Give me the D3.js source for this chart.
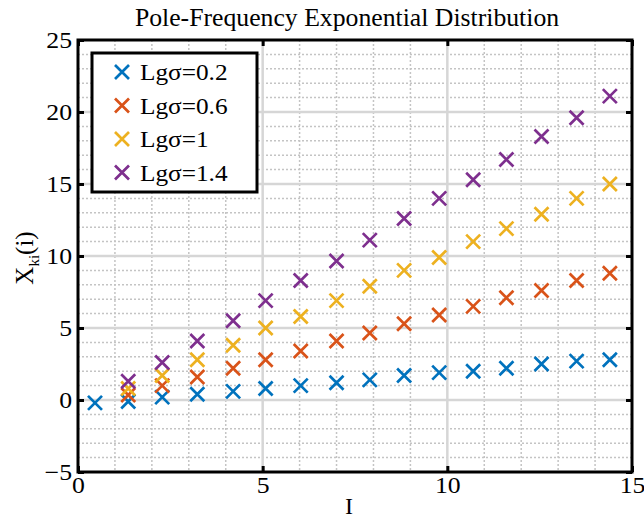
<!DOCTYPE html>
<html>
<head>
<meta charset="utf-8">
<script src="https://cdn.jsdelivr.net/npm/d3@7"></script>
<style>
  body { margin: 0; background: #fff; }
  text { font-family: "Liberation Serif", "Times New Roman", serif; fill: #000; }
</style>
</head>
<body>
<div id="chart"></div>
<script>
// data
const xPos = [0.46, 1.36, 2.28, 3.23, 4.2, 5.08, 6.03, 7.0, 7.9, 8.83, 9.78, 10.7, 11.6, 12.55, 13.5, 14.4];
const seriesNames = ["Lg\u03c3=0.2", "Lg\u03c3=0.6", "Lg\u03c3=1", "Lg\u03c3=1.4"];
const seriesColors = ["#0072BD", "#D95319", "#EDB120", "#7E2F8E"];
const blueVals   = [-0.2, -0.1, 0.2, 0.4, 0.6, 0.8, 1.0, 1.2, 1.4, 1.7, 1.9, 2.0, 2.2, 2.5, 2.7, 2.8];
const orangeVals = [null, 0.35, 1.0, 1.6, 2.2, 2.8, 3.4, 4.1, 4.65, 5.3, 5.9, 6.5, 7.1, 7.6, 8.3, 8.8];
const yellowVals = [null, 0.8, 1.7, 2.8, 3.8, 5.0, 5.8, 6.9, 7.9, 9.0, 9.9, 11.0, 11.9, 12.9, 14.0, 15.0];
const purpleVals = [null, 1.3, 2.6, 4.1, 5.5, 6.9, 8.3, 9.65, 11.1, 12.6, 14.0, 15.3, 16.7, 18.3, 19.6, 21.1];
const xTicks = [0, 5, 10, 15];
const yTicks = [-5, 0, 5, 10, 15, 20, 25];

const allSeries = [blueVals, orangeVals, yellowVals, purpleVals];

// set the dimensions and margins of the graph
const margin = {top: 40, right: 12, bottom: 48, left: 78},
    width = 644 - margin.left - margin.right,
    height = 520 - margin.top - margin.bottom;

const svg = d3.select("#chart")
  .append("svg")
    .attr("width", 644)
    .attr("height", 520);

const g = svg.append("g")
    .attr("transform", `translate(${margin.left},${margin.top})`);

const x = d3.scaleLinear().domain([0, 15]).range([0, width]);
const y = d3.scaleLinear().domain([-5, 25]).range([height, 0]);

// minor grid (dotted)
g.append("g").selectAll("line")
  .data(d3.range(1, 15).filter(d => d % 5 !== 0))
  .join("line")
    .attr("x1", d => x(d)).attr("x2", d => x(d))
    .attr("y1", 0).attr("y2", height)
    .attr("stroke", "#c4c4c4").attr("stroke-width", 1.5)
    .attr("stroke-dasharray", "2,2");
g.append("g").selectAll("line")
  .data(d3.range(-4, 25).filter(d => d % 5 !== 0))
  .join("line")
    .attr("x1", 0).attr("x2", width)
    .attr("y1", d => y(d)).attr("y2", d => y(d))
    .attr("stroke", "#c4c4c4").attr("stroke-width", 1.5)
    .attr("stroke-dasharray", "2,2");

// major grid
g.append("g").selectAll("line")
  .data(xTicks.slice(1, -1))
  .join("line")
    .attr("x1", d => x(d)).attr("x2", d => x(d))
    .attr("y1", 0).attr("y2", height)
    .attr("stroke", "#d6d6d6").attr("stroke-width", 2.5);
g.append("g").selectAll("line")
  .data(yTicks.slice(1, -1))
  .join("line")
    .attr("x1", 0).attr("x2", width)
    .attr("y1", d => y(d)).attr("y2", d => y(d))
    .attr("stroke", "#d6d6d6").attr("stroke-width", 2.5);

// axes
const tickLen = 6;
function styleAxis(sel) {
  sel.select(".domain").remove();
  sel.selectAll(".tick line").attr("stroke", "#000").attr("stroke-width", 3);
  sel.selectAll(".tick text").style("font-size", "23px").style("font-family", "Liberation Serif, serif");
}
g.append("g")
  .attr("transform", `translate(0,${height})`)
  .call(d3.axisBottom(x).tickValues(xTicks).tickSize(-tickLen).tickPadding(5))
  .call(styleAxis)
  .selectAll(".tick text").attr("dy", "0.71em")
    .attr("transform", "scale(1.12,1)");
g.append("g")
  .call(d3.axisTop(x).tickValues(xTicks).tickSize(-tickLen).tickFormat(""))
  .call(styleAxis);
g.append("g")
  .call(d3.axisLeft(y).tickValues(yTicks).tickSize(-tickLen).tickPadding(6))
  .call(styleAxis)
  .selectAll(".tick text").attr("x", -6 / 1.12)
    .attr("transform", "scale(1.12,1)");
g.append("g")
  .attr("transform", `translate(${width},0)`)
  .call(d3.axisRight(y).tickValues(yTicks).tickSize(-tickLen).tickFormat(""))
  .call(styleAxis);

// box
g.append("rect")
  .attr("width", width).attr("height", height)
  .attr("fill", "none").attr("stroke", "#000").attr("stroke-width", 3);

// markers
const ms = 7;
function cross(sel, color) {
  sel.append("path")
    .attr("d", `M${-ms},${-ms}L${ms},${ms}M${-ms},${ms}L${ms},${-ms}`)
    .attr("stroke", color).attr("stroke-width", 2.7).attr("fill", "none");
}
allSeries.forEach((vals, si) => {
  const pts = vals.map((v, i) => ({x: xPos[i], v: v})).filter(d => d.v !== null);
  g.append("g").selectAll("g")
    .data(pts)
    .join("g")
      .attr("transform", d => `translate(${x(d.x)},${y(d.v)})`)
      .call(cross, seriesColors[si]);
});

// legend
const leg = svg.append("g").attr("transform", "translate(92,53)");
leg.append("rect")
  .attr("width", 165).attr("height", 139)
  .attr("fill", "#fff").attr("stroke", "#000").attr("stroke-width", 3);
seriesNames.forEach((name, i) => {
  const row = leg.append("g").attr("transform", `translate(30,${19 + i * 33.5})`);
  cross(row, seriesColors[i]);
  row.append("text")
    .attr("transform", "translate(18,0) scale(1.1,1)")
    .attr("dy", "0.35em")
    .style("font-size", "23px")
    .text(name);
});

// title and labels
svg.append("text")
  .attr("transform", `translate(${margin.left + width / 2 - 8},26) scale(1.05,1)`)
  .attr("text-anchor", "middle")
  .style("font-size", "24.5px")
  .text("Pole-Frequency Exponential Distribution");

svg.append("text")
  .attr("x", 349).attr("y", 514)
  .attr("text-anchor", "middle")
  .style("font-size", "24px")
  .text("I");

const yl = svg.append("text")
  .attr("transform", `translate(33,258) rotate(-90)`)
  .attr("text-anchor", "middle")
  .style("font-size", "25px");
yl.append("tspan").text("X");
yl.append("tspan").attr("dy", 6).style("font-size", "15px").text("ki");
yl.append("tspan").attr("dy", -6).text("(i)");
</script>
</body>
</html>
